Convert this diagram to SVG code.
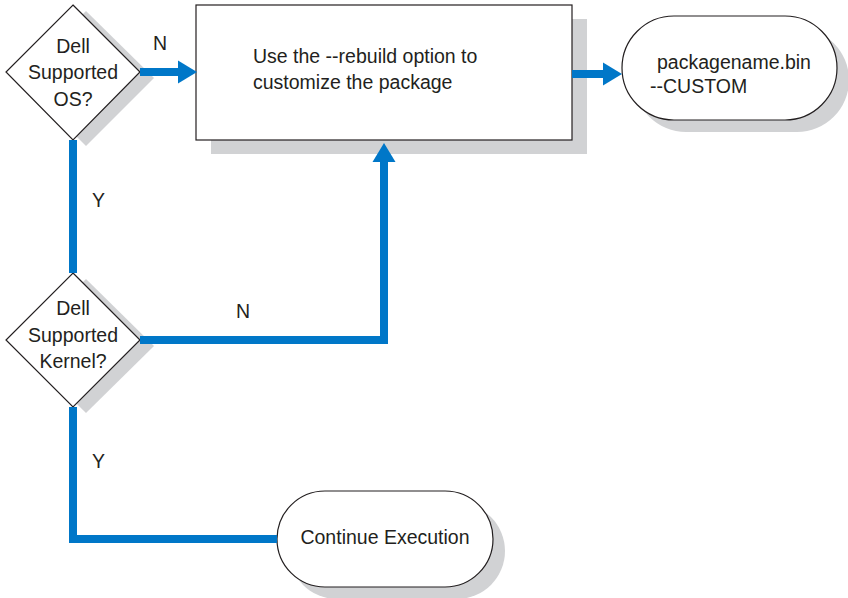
<svg xmlns="http://www.w3.org/2000/svg" width="848" height="598" viewBox="0 0 848 598">
<style>
.sh{fill:#d1d2d4;stroke:none}
.nd{fill:#fff;stroke:#231f20;stroke-width:1.2}
.tx{font-family:"Liberation Sans",Arial,sans-serif;font-size:19.5px;fill:#231f20}
.c{text-anchor:middle}
.ln{fill:none;stroke:#0077c8;stroke-width:8;stroke-linejoin:miter}
</style>
<defs>
<marker id="ah" markerUnits="userSpaceOnUse" markerWidth="20" markerHeight="24" viewBox="0 -12 20 24" refX="0" refY="0" orient="auto">
<path d="M0,-11.5 L19,0 L0,11.5 z" fill="#0077c8"/>
</marker>
</defs>
<rect width="848" height="598" fill="#fff"/>
<g id="n-os">
<polygon class="sh" points="86,11 154,78 86,146 18,78"/>
<polygon class="nd" points="73,5 140,72 73,140 6,72"/>
<text class="tx c" x="73" y="53">Dell</text>
<text class="tx c" x="73" y="79">Supported</text>
<text class="tx c" x="73" y="106">OS?</text>
</g>
<g id="n-kernel">
<polygon class="sh" points="86,279 154,346 86,413 18,346"/>
<polygon class="nd" points="73,273 140,340 73,407 6,340"/>
<text class="tx c" x="73" y="315">Dell</text>
<text class="tx c" x="73" y="342">Supported</text>
<text class="tx c" x="73" y="368">Kernel?</text>
</g>
<g id="n-rebuild">
<rect class="sh" x="211" y="19" width="376" height="135"/>
<rect class="nd" x="196" y="5" width="376" height="135"/>
<text class="tx" x="253" y="63">Use the --rebuild option to</text>
<text class="tx" x="253" y="89">customize the package</text>
</g>
<g id="n-custom">
<rect class="sh" x="634" y="28" width="215" height="104" rx="52"/>
<rect class="nd" x="622" y="16" width="215" height="104" rx="52"/>
<text class="tx" x="657" y="69">packagename.bin</text>
<text class="tx" x="650" y="93">--CUSTOM</text>
</g>
<g id="n-continue">
<rect class="sh" x="289" y="503" width="216" height="96" rx="48"/>
<rect class="nd" x="277" y="491" width="216" height="96" rx="48"/>
<text class="tx c" x="385" y="544">Continue Execution</text>
</g>
<g id="connectors">
<path class="ln" d="M140,72 H178" marker-end="url(#ah)"/>
<path class="ln" d="M572,74 H603" marker-end="url(#ah)"/>
<path class="ln" d="M140,340 H384 V162" marker-end="url(#ah)"/>
<path class="ln" d="M73,140 V273"/>
<path class="ln" d="M73,407 V539 H277"/>
</g>
<g id="labels">
<text class="tx" x="153" y="50">N</text>
<text class="tx" x="92" y="207">Y</text>
<text class="tx" x="236" y="318">N</text>
<text class="tx" x="92" y="468">Y</text>
</g>
</svg>
